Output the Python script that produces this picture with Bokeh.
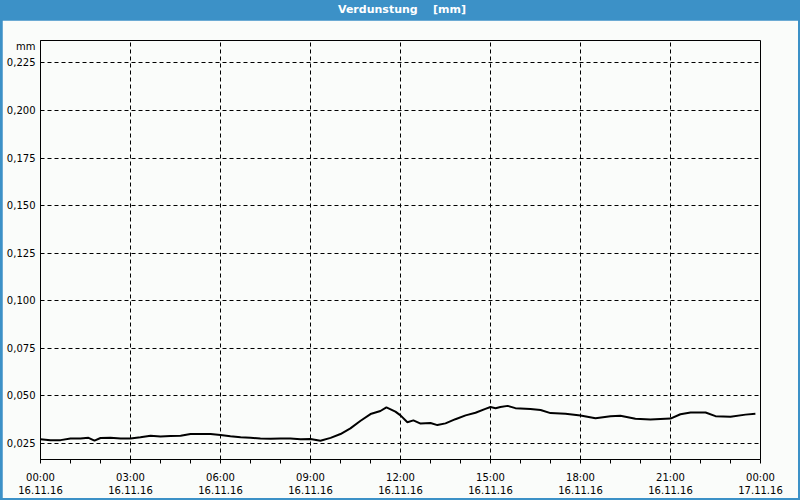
from bokeh.plotting import figure
from bokeh.models import FixedTicker, Div, ColumnDataSource
from bokeh.layouts import column
from bokeh.embed import file_html
from bokeh.resources import INLINE

TITLE = "Verdunstung\u00a0\u00a0\u00a0\u00a0[mm]"
UNIT = "mm"

hours = [0.0, 0.33, 0.67, 1.0, 1.33, 1.6, 1.8, 2.0, 2.33, 2.67, 3.0, 3.33, 3.67, 4.0,
         4.33, 4.67, 5.0, 5.33, 5.67, 6.0, 6.33, 6.67, 7.0, 7.33, 7.67, 8.0, 8.33,
         8.67, 9.0, 9.33, 9.67, 10.0, 10.33, 10.67, 11.0, 11.33, 11.53, 11.83, 12.0,
         12.23, 12.43, 12.67, 13.0, 13.23, 13.5, 13.83, 14.17, 14.5, 14.83, 15.0,
         15.17, 15.33, 15.57, 15.83, 16.33, 16.67, 17.0, 17.5, 18.0, 18.5, 19.0,
         19.33, 19.83, 20.33, 21.0, 21.33, 21.67, 22.17, 22.5, 23.0, 23.5, 23.83]
verdunstung = [0.0272, 0.0267, 0.0268, 0.0277, 0.0277, 0.0280, 0.0265, 0.0279, 0.0280,
               0.0277, 0.0276, 0.0283, 0.0291, 0.0287, 0.0290, 0.0291, 0.0300, 0.0300,
               0.0300, 0.0295, 0.0288, 0.0283, 0.0280, 0.0276, 0.0275, 0.0276, 0.0276,
               0.0273, 0.0274, 0.0265, 0.0280, 0.0300, 0.0330, 0.0370, 0.0405, 0.0421,
               0.0440, 0.0418, 0.0398, 0.0362, 0.0372, 0.0355, 0.0358, 0.0347, 0.0356,
               0.0378, 0.0398, 0.0412, 0.0432, 0.0442, 0.0436, 0.0442, 0.0448, 0.0436,
               0.0432, 0.0426, 0.0410, 0.0406, 0.0397, 0.0383, 0.0393, 0.0396, 0.0380,
               0.0376, 0.0381, 0.0404, 0.0413, 0.0413, 0.0394, 0.0391, 0.0402, 0.0407]

x_ticks = [0, 3, 6, 9, 12, 15, 18, 21, 24]
x_tick_labels = ["00:00\n16.11.16", "03:00\n16.11.16", "06:00\n16.11.16",
                 "09:00\n16.11.16", "12:00\n16.11.16", "15:00\n16.11.16",
                 "18:00\n16.11.16", "21:00\n16.11.16", "00:00\n17.11.16"]
y_ticks = [0.025, 0.05, 0.075, 0.1, 0.125, 0.15, 0.175, 0.2, 0.225]
y_tick_labels = ["0,025", "0,050", "0,075", "0,100", "0,125", "0,150", "0,175",
                 "0,200", "0,225"]
unit_pos = 0.2336   # where the unit text sits on the value axis

BLUE = "#3c91c7"
BG = "#fafcfa"
FONT = "DejaVu Sans"

div = Div(text=TITLE, width=800, height=20,
          styles={"background-color": BLUE, "color": "white", "font-family": FONT,
                  "font-size": "11px", "font-weight": "bold", "text-align": "center",
                  "line-height": "20px", "width": "800px", "height": "20px",
                  "margin": "0", "padding": "0"})

p = figure(width=796, height=478, x_range=(0, 24), y_range=(0.01662, 0.23678),
           output_backend="svg", toolbar_location=None,
           min_border_left=38, min_border_right=38, min_border_top=20,
           min_border_bottom=38)
p.background_fill_color = BG
p.border_fill_color = BG
p.outline_line_color = "black"
p.outline_line_width = 1

src = ColumnDataSource(dict(x=hours, y=verdunstung))
p.line("x", "y", source=src, line_color="black", line_width=2)

p.xaxis.ticker = FixedTicker(ticks=x_ticks, minor_ticks=list(range(25)))
p.xaxis.major_label_overrides = {t: l for t, l in zip(x_ticks, x_tick_labels)}
overrides = {t: l for t, l in zip(y_ticks, y_tick_labels)}
overrides[unit_pos] = UNIT
p.yaxis.ticker = FixedTicker(ticks=y_ticks + [unit_pos], minor_ticks=[])
p.yaxis.major_label_overrides = overrides
p.ygrid.ticker = FixedTicker(ticks=y_ticks, minor_ticks=[])

for ax in (p.xaxis[0], p.yaxis[0]):
    ax.axis_line_color = "black"
    ax.major_tick_out = 0
    ax.major_tick_in = 0
    ax.major_label_text_font = FONT
    ax.major_label_text_font_size = "10px"
    ax.major_label_text_color = "black"
p.xaxis.minor_tick_out = 4
p.xaxis.minor_tick_in = 0
p.xaxis.minor_tick_line_color = "black"
p.xaxis.major_label_standoff = 8
p.yaxis.minor_tick_line_color = None
p.yaxis.major_label_standoff = 5

for g in (p.xgrid[0], p.ygrid[0]):
    g.grid_line_color = "black"
    g.grid_line_dash = "4 3"
    g.grid_line_width = 1

layout = column(div, p, spacing=0,
                styles={"background-color": BLUE, "padding": "0 2px 2px 2px"})

open("out.html", "w").write(file_html(layout, INLINE))
